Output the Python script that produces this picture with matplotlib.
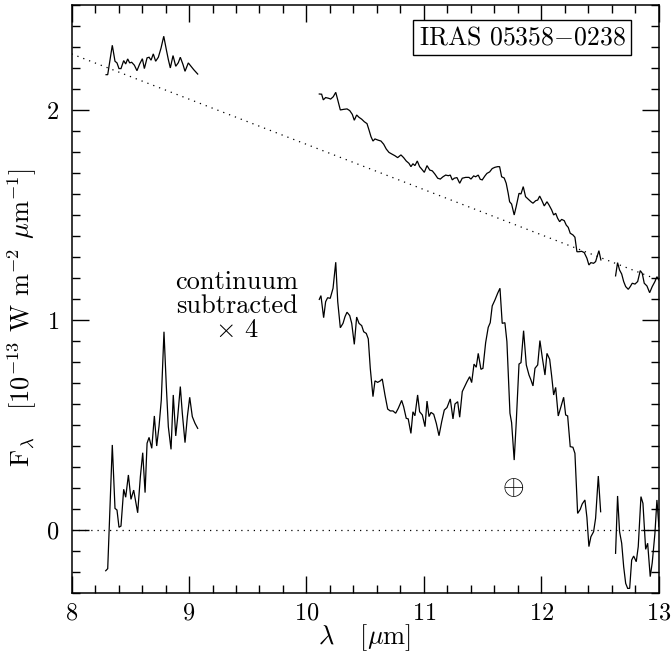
import matplotlib
matplotlib.use("Agg")
import matplotlib.pyplot as plt
from matplotlib.ticker import MultipleLocator

plt.rcParams['font.family'] = 'serif'
plt.rcParams['font.serif'] = ['cmr10', 'DejaVu Serif']
plt.rcParams['mathtext.fontset'] = 'cm'
plt.rcParams['axes.formatter.use_mathtext'] = True

# Observed spectrum, F_lambda in 1e-13 W m^-2 um^-1
wl_obs_a = [8.294, 8.308, 8.347, 8.370, 8.387, 8.404, 8.421, 8.444, 8.461, 8.478,
            8.495, 8.512, 8.535, 8.557, 8.580, 8.603, 8.620, 8.643, 8.660, 8.677,
            8.696, 8.716, 8.739, 8.762, 8.785, 8.807, 8.824, 8.841, 8.864, 8.887,
            8.909, 8.926, 8.949, 8.966, 8.994, 9.017, 9.040, 9.074]
fl_obs_a = [2.168, 2.168, 2.308, 2.232, 2.224, 2.197, 2.197, 2.235, 2.219, 2.243,
            2.224, 2.227, 2.213, 2.187, 2.219, 2.244, 2.197, 2.248, 2.251, 2.237,
            2.267, 2.232, 2.251, 2.295, 2.351, 2.287, 2.240, 2.200, 2.259, 2.208,
            2.225, 2.251, 2.216, 2.184, 2.224, 2.208, 2.192, 2.171]

wl_obs_b = [10.109, 10.129, 10.143, 10.163, 10.186, 10.206, 10.228, 10.249, 10.266, 10.288,
            10.317, 10.345, 10.368, 10.390, 10.407, 10.427, 10.447, 10.470, 10.492, 10.515,
            10.532, 10.549, 10.566, 10.583, 10.606, 10.634, 10.657, 10.679, 10.702, 10.730,
            10.753, 10.776, 10.804, 10.827, 10.849, 10.872, 10.889, 10.906, 10.923, 10.943,
            10.963, 10.980, 11.003, 11.026, 11.049, 11.071, 11.094, 11.117, 11.139, 11.162,
            11.185, 11.207, 11.224, 11.241, 11.258, 11.281, 11.304, 11.326, 11.355, 11.383,
            11.400, 11.423, 11.440, 11.462, 11.479, 11.496, 11.519, 11.536, 11.559, 11.581,
            11.604, 11.627, 11.644, 11.661, 11.683, 11.700, 11.717, 11.729, 11.746, 11.768,
            11.785, 11.809, 11.826, 11.845, 11.865, 11.888, 11.911, 11.928, 11.951, 11.968,
            11.985, 12.002, 12.024, 12.047, 12.064, 12.087, 12.104, 12.121, 12.138, 12.155,
            12.172, 12.194, 12.211, 12.228, 12.245, 12.268, 12.285, 12.302, 12.319, 12.342,
            12.364, 12.387, 12.404, 12.421, 12.444, 12.461, 12.489, 12.506]
fl_obs_b = [2.076, 2.075, 2.048, 2.059, 2.056, 2.052, 2.063, 2.084, 2.048, 2.000,
            2.003, 2.005, 1.997, 1.979, 1.951, 1.976, 1.965, 1.956, 1.944, 1.935,
            1.905, 1.873, 1.852, 1.862, 1.857, 1.852, 1.837, 1.814, 1.798, 1.789,
            1.782, 1.773, 1.786, 1.773, 1.757, 1.746, 1.730, 1.744, 1.735, 1.757,
            1.730, 1.719, 1.703, 1.735, 1.714, 1.710, 1.694, 1.675, 1.671, 1.682,
            1.690, 1.687, 1.690, 1.667, 1.675, 1.678, 1.651, 1.675, 1.679, 1.679,
            1.671, 1.686, 1.682, 1.690, 1.670, 1.667, 1.686, 1.698, 1.705, 1.721,
            1.727, 1.730, 1.730, 1.682, 1.676, 1.651, 1.603, 1.563, 1.552, 1.500,
            1.540, 1.603, 1.600, 1.635, 1.587, 1.575, 1.563, 1.556, 1.568, 1.571,
            1.590, 1.571, 1.543, 1.563, 1.548, 1.524, 1.500, 1.508, 1.484, 1.468,
            1.479, 1.473, 1.452, 1.441, 1.413, 1.405, 1.394, 1.325, 1.325, 1.327,
            1.321, 1.294, 1.262, 1.273, 1.270, 1.278, 1.330, 1.286]

wl_obs_c = [12.631, 12.648, 12.665, 12.683, 12.700, 12.717, 12.739, 12.756, 12.773, 12.796,
            12.819, 12.841, 12.858, 12.875, 12.898, 12.921, 12.943, 12.966, 12.983, 13.000]
fl_obs_c = [1.210, 1.273, 1.238, 1.219, 1.183, 1.159, 1.146, 1.159, 1.175, 1.171,
            1.183, 1.235, 1.222, 1.175, 1.162, 1.130, 1.159, 1.183, 1.206, 1.190]

# Continuum-subtracted spectrum, scaled by 4
wl_sub_a = [8.291, 8.308, 8.347, 8.370, 8.387, 8.404, 8.421, 8.444, 8.461, 8.484,
            8.506, 8.529, 8.563, 8.586, 8.606, 8.626, 8.643, 8.660, 8.683, 8.705,
            8.725, 8.745, 8.764, 8.787, 8.807, 8.824, 8.847, 8.866, 8.887, 8.904,
            8.926, 8.943, 8.966, 8.986, 9.006, 9.028, 9.051, 9.074]
fl_sub_a = [-0.194, -0.184, 0.405, 0.103, 0.095, 0.013, 0.019, 0.194, 0.156, 0.262,
            0.146, 0.190, 0.082, 0.254, 0.368, 0.178, 0.413, 0.441, 0.389, 0.543,
            0.400, 0.495, 0.619, 0.944, 0.683, 0.492, 0.384, 0.643, 0.448, 0.540,
            0.683, 0.556, 0.416, 0.540, 0.632, 0.540, 0.508, 0.484]

wl_sub_b = [10.109, 10.123, 10.146, 10.163, 10.180, 10.202, 10.226, 10.249, 10.266, 10.288,
            10.311, 10.328, 10.345, 10.368, 10.385, 10.407, 10.427, 10.447, 10.470, 10.487,
            10.509, 10.526, 10.543, 10.566, 10.583, 10.606, 10.628, 10.645, 10.668, 10.691,
            10.713, 10.736, 10.759, 10.781, 10.810, 10.827, 10.849, 10.866, 10.889, 10.906,
            10.923, 10.946, 10.963, 10.986, 11.009, 11.026, 11.043, 11.060, 11.083, 11.105,
            11.128, 11.151, 11.173, 11.196, 11.224, 11.247, 11.264, 11.287, 11.304, 11.326,
            11.349, 11.366, 11.389, 11.406, 11.426, 11.445, 11.462, 11.485, 11.502, 11.525,
            11.547, 11.564, 11.581, 11.604, 11.627, 11.647, 11.666, 11.689, 11.706, 11.732,
            11.746, 11.768, 11.785, 11.809, 11.826, 11.848, 11.871, 11.894, 11.911, 11.928,
            11.945, 11.968, 11.987, 12.007, 12.030, 12.047, 12.070, 12.087, 12.104, 12.121,
            12.143, 12.166, 12.189, 12.206, 12.223, 12.245, 12.268, 12.285, 12.308, 12.330,
            12.347, 12.370, 12.387, 12.404, 12.421, 12.444, 12.461, 12.484, 12.504]
fl_sub_b = [1.098, 1.116, 1.011, 1.087, 1.106, 1.103, 1.151, 1.275, 1.087, 0.963,
            0.984, 1.016, 1.037, 1.021, 0.984, 0.884, 1.014, 0.984, 0.973, 0.944,
            0.936, 0.910, 0.770, 0.635, 0.710, 0.703, 0.710, 0.719, 0.643, 0.576,
            0.567, 0.567, 0.556, 0.579, 0.617, 0.587, 0.532, 0.529, 0.460, 0.563,
            0.544, 0.643, 0.563, 0.548, 0.492, 0.614, 0.540, 0.560, 0.551, 0.508,
            0.449, 0.516, 0.571, 0.583, 0.624, 0.529, 0.600, 0.611, 0.537, 0.659,
            0.686, 0.706, 0.730, 0.702, 0.790, 0.775, 0.841, 0.765, 0.770, 0.892,
            0.965, 0.987, 1.067, 1.095, 1.127, 1.151, 0.984, 0.987, 0.897, 0.556,
            0.511, 0.333, 0.508, 0.790, 0.797, 0.949, 0.786, 0.738, 0.714, 0.686,
            0.770, 0.786, 0.902, 0.822, 0.738, 0.841, 0.813, 0.733, 0.643, 0.679,
            0.543, 0.587, 0.632, 0.548, 0.543, 0.397, 0.394, 0.365, 0.079, 0.098,
            0.124, 0.143, 0.060, -0.079, -0.032, -0.008, 0.056, 0.257, 0.087]

wl_sub_c = [12.631, 12.648, 12.665, 12.683, 12.700, 12.717, 12.734, 12.751, 12.768, 12.785,
            12.807, 12.824, 12.847, 12.864, 12.887, 12.904, 12.926, 12.943, 12.966, 12.983,
            13.000]
fl_sub_c = [-0.111, 0.162, -0.008, -0.063, -0.175, -0.254, -0.278, -0.278, -0.143, -0.124,
            -0.151, -0.079, 0.159, 0.127, -0.092, -0.063, -0.222, -0.156, -0.016, 0.143,
            0.016]

# Linear continuum and zero level
cont_wl = [8.0, 13.0]
cont_fl = [2.267, 1.190]
zero_wl = [8.0, 13.0]
zero_fl = [0.0, 0.0]

fig = plt.figure(figsize=(6.71, 6.60), dpi=100)
ax = fig.add_axes([0.1066, 0.1015, 0.8754, 0.891])

lw = 0.9
for wl, fl in [(wl_obs_a, fl_obs_a), (wl_obs_b, fl_obs_b), (wl_obs_c, fl_obs_c),
               (wl_sub_a, fl_sub_a), (wl_sub_b, fl_sub_b), (wl_sub_c, fl_sub_c)]:
    ax.plot(wl, fl, color='black', lw=lw, solid_joinstyle='miter')

ax.plot(cont_wl, cont_fl, color='black', lw=0.9, linestyle=(0, (1, 4)))
ax.plot(zero_wl, zero_fl, color='black', lw=0.9, linestyle=(0, (1, 4)))

ax.set_xlim(8, 13)
ax.set_ylim(-0.3, 2.5)
ax.xaxis.set_major_locator(MultipleLocator(1))
ax.xaxis.set_minor_locator(MultipleLocator(0.2))
ax.yaxis.set_major_locator(MultipleLocator(1))
ax.yaxis.set_minor_locator(MultipleLocator(0.1))
ax.tick_params(which='both', direction='in', top=True, right=True, width=1.0)
ax.tick_params(which='major', length=12, labelsize=17.5)
ax.tick_params(axis='x', which='major', pad=7)
ax.tick_params(axis='y', which='major', pad=9)
ax.tick_params(which='minor', length=5.5)
for sp in ax.spines.values():
    sp.set_linewidth(1.1)

ax.set_xlabel(r'$\lambda$   [$\mu$m]', fontsize=19)
ax.set_ylabel(r'F$_\lambda$   [10$^{-13}$ W m$^{-2}$ $\mu$m$^{-1}$]', fontsize=19)
ax.xaxis.set_label_coords(0.4996, -0.05)
ax.yaxis.set_label_coords(-0.056, 0.469)

ax.text(0.767, 0.944, r'IRAS 05358$-$0238', transform=ax.transAxes, fontsize=18.5,
        ha='center', va='center',
        bbox=dict(boxstyle='square,pad=0.22', fc='white', ec='black', lw=1.0))

ax.text(9.408, 1.067, 'continuum\nsubtracted\n' + r'$\times$ 4', fontsize=19,
        ha='center', va='center', linespacing=1.0)

ax.text(11.757, 0.2, r'$\oplus$', fontsize=20, ha='center', va='center')

fig.savefig('out.png', dpi=100)
